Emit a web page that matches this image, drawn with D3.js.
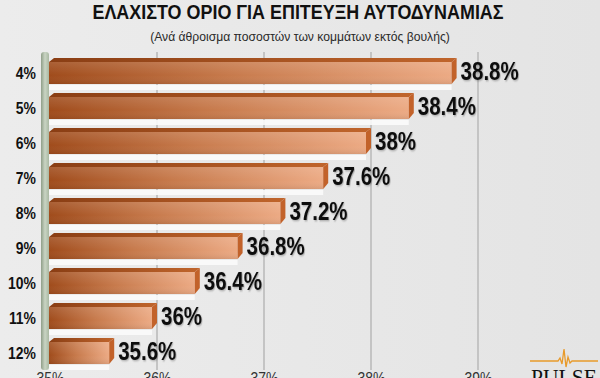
<!DOCTYPE html>
<html>
<head>
<meta charset="utf-8">
<script src="https://cdn.jsdelivr.net/npm/d3@7"></script>
<style>
  html, body { margin: 0; padding: 0; background: #e7e7e7; }
  svg { display: block; }
</style>
</head>
<body>
<svg id="chart" width="600" height="378"></svg>
<script>
// Data
const categories = ["4%", "5%", "6%", "7%", "8%", "9%", "10%", "11%", "12%"];
const values = [38.8, 38.4, 38.0, 37.6, 37.2, 36.8, 36.4, 36.0, 35.6];
const tickValues = [35, 36, 37, 38, 39];

const title = "ΕΛΑΧΙΣΤΟ ΟΡΙΟ ΓΙΑ ΕΠΙΤΕΥΞΗ ΑΥΤΟΔΥΝΑΜΙΑΣ";
const subtitle = "(Ανά άθροισμα ποσοστών των κομμάτων εκτός βουλής)";

// no narrow font installed -> Liberation Sans squeezed horizontally
const SANS = "'Liberation Sans', Arial, sans-serif";
const SQUEEZE = 0.82;

(function () {
  const W = 600, H = 378;
  const svg = d3.select("#chart");
  const defs = svg.append("defs");

  // text at (x,y), narrowed
  const narrowText = (parent, x, y, sx) => parent.append("text")
    .attr("transform", `translate(${x},${y}) scale(${sx || SQUEEZE},1)`)
    .attr("font-family", SANS);

  // background
  const bg = defs.append("linearGradient").attr("id", "bg").attr("x1", 0).attr("x2", 1);
  bg.append("stop").attr("offset", "0%").attr("stop-color", "#ececec");
  bg.append("stop").attr("offset", "100%").attr("stop-color", "#e4e4e4");
  svg.append("rect").attr("width", W).attr("height", H).attr("fill", "url(#bg)");

  // bar face gradient (dark rust -> peach)
  const face = defs.append("linearGradient").attr("id", "face").attr("x1", 0).attr("x2", 1);
  face.append("stop").attr("offset", "0%").attr("stop-color", "#a04c1c");
  face.append("stop").attr("offset", "45%").attr("stop-color", "#c77a4c");
  face.append("stop").attr("offset", "100%").attr("stop-color", "#ecaa84");
  const shade = defs.append("linearGradient").attr("id", "shade").attr("x1", 0).attr("x2", 0).attr("y1", 0).attr("y2", 1);
  shade.append("stop").attr("offset", "0%").attr("stop-color", "#fff").attr("stop-opacity", 0.12);
  shade.append("stop").attr("offset", "60%").attr("stop-color", "#fff").attr("stop-opacity", 0);
  shade.append("stop").attr("offset", "100%").attr("stop-color", "#000").attr("stop-opacity", 0.08);
  const topFace = defs.append("linearGradient").attr("id", "topface").attr("x1", 0).attr("x2", 1);
  topFace.append("stop").attr("offset", "0%").attr("stop-color", "#8a3e14");
  topFace.append("stop").attr("offset", "100%").attr("stop-color", "#c0652c");
  const wall = defs.append("linearGradient").attr("id", "wall").attr("x1", 0).attr("x2", 1);
  wall.append("stop").attr("offset", "0%").attr("stop-color", "#8f9e88");
  wall.append("stop").attr("offset", "50%").attr("stop-color", "#c9d4c3");
  wall.append("stop").attr("offset", "100%").attr("stop-color", "#a9b8a2");

  defs.append("filter").attr("id", "tshadow")
    .append("feDropShadow").attr("dx", 1).attr("dy", 1).attr("stdDeviation", 0.8)
    .attr("flood-color", "#000").attr("flood-opacity", 0.3);

  // scales
  const x = d3.scaleLinear().domain([35, 39]).range([50, 478]);
  const y = d3.scaleBand().domain(categories).range([54.5, 369.5])
    .paddingInner(0.2).paddingOuter(0.1);

  // title
  narrowText(svg, 298, 19, 0.92).attr("text-anchor", "middle")
    .attr("font-weight", 700).attr("font-size", 19.5)
    .attr("fill", "#111").text(title);
  narrowText(svg, 300, 41, 0.9).attr("text-anchor", "middle")
    .attr("font-size", 13.5).attr("fill", "#2a2a2a").text(subtitle);

  // gridlines
  svg.append("g").selectAll("line").data(tickValues.slice(1)).join("line")
    .attr("x1", d => x(d)).attr("x2", d => x(d))
    .attr("y1", 52).attr("y2", 370)
    .attr("stroke", "#c4c4c4").attr("stroke-width", 2);

  // left wall
  svg.append("rect").attr("x", 41).attr("y", 52).attr("width", 8).attr("height", 318)
    .attr("rx", 3).attr("fill", "url(#wall)");

  // x-axis tick labels (cut at the bottom, as in the original)
  const xAxis = d3.axisBottom(x).tickValues(tickValues).tickSize(0).tickFormat(d => d + "%");
  const gx = svg.append("g").attr("transform", "translate(0,369)").call(xAxis);
  gx.select(".domain").remove();
  gx.selectAll("text").attr("font-family", SANS).attr("font-size", 17)
    .attr("fill", "#333").attr("y", 0).attr("dy", "0.9em")
    .attr("transform", `scale(${SQUEEZE},1)`);

  // category labels
  const yAxis = d3.axisLeft(y).tickSize(0).tickPadding(0);
  const gy = svg.append("g").attr("transform", "translate(36,2)").call(yAxis);
  gy.select(".domain").remove();
  gy.selectAll("text").attr("font-family", SANS).attr("font-weight", 700)
    .attr("font-size", 17).attr("fill", "#111")
    .attr("transform", `scale(${SQUEEZE},1)`);

  // bars
  const rows = svg.append("g").selectAll("g").data(values).join("g")
    .attr("transform", (d, i) => `translate(0,${y(categories[i])})`);

  const bevel = 4, dep = 5;
  const bh = y.bandwidth() - 6;
  const x0 = 49;

  // light floor strip beneath each bar
  rows.append("rect").attr("x", x0).attr("y", bevel + bh + 1)
    .attr("width", d => x(d) - x0 - dep).attr("height", 5)
    .attr("fill", "#fbfbfb").attr("opacity", 0.9);

  rows.append("polygon").attr("points", d => {
    const x1 = x(d) - dep;
    return [[x0, bevel], [x0 + dep, 0], [x1 + dep, 0], [x1, bevel]].join(" ");
  }).attr("fill", "url(#topface)");

  rows.append("rect").attr("x", x0).attr("y", bevel)
    .attr("width", d => x(d) - x0 - dep).attr("height", bh).attr("fill", "url(#face)");
  rows.append("rect").attr("x", x0).attr("y", bevel)
    .attr("width", d => x(d) - x0 - dep).attr("height", bh).attr("fill", "url(#shade)");

  rows.append("polygon").attr("points", d => {
    const x1 = x(d) - dep;
    return [[x1, bevel], [x1 + dep, 0], [x1 + dep, bh - 2], [x1, bevel + bh]].join(" ");
  }).attr("fill", "#c2622a");

  // value labels
  rows.each(function (d) {
    narrowText(d3.select(this), x(d) + 4, bevel + bh / 2 - 2)
      .attr("dy", "0.36em")
      .attr("font-weight", 700).attr("font-size", 25)
      .attr("fill", "#111").attr("filter", "url(#tshadow)")
      .text(d + "%");
  });

  // PULSE logo
  const logo = svg.append("g").attr("transform", "translate(530,361)");
  logo.append("path")
    .attr("d", "M0,0 H28 L30,-3 L32,3 L34,-12 L36,6 L38,-4 L40,2 L42,0 H68")
    .attr("fill", "none").attr("stroke", "#e89a2a").attr("stroke-width", 1.3);
  logo.append("text").attr("transform", "translate(34,24) scale(0.9,1)")
    .attr("text-anchor", "middle")
    .attr("font-family", "'Liberation Serif', serif").attr("font-size", 24)
    .attr("fill", "#111").text("PULSE");
})();
</script>
</body>
</html>
